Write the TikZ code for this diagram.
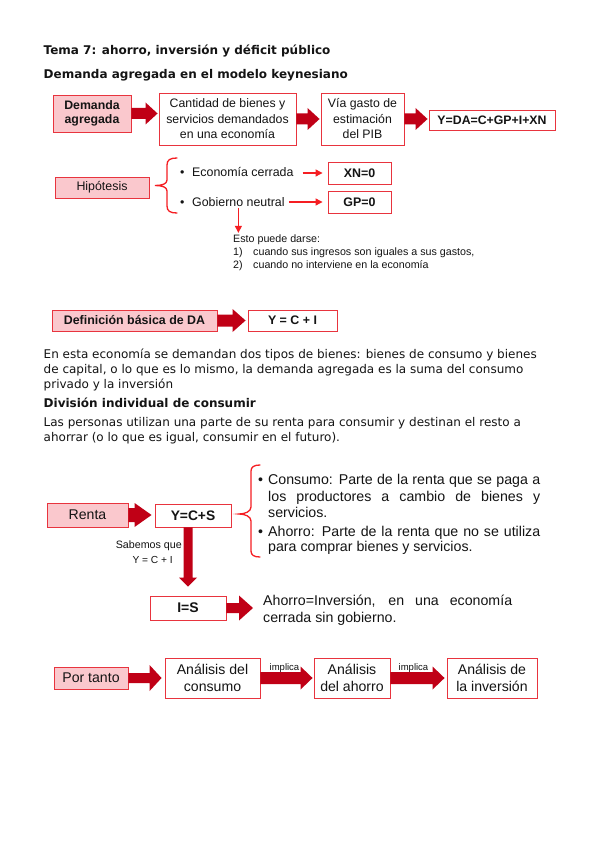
\documentclass[tikz,border=0pt]{standalone}
\usepackage{fontspec}
\setmainfont{DejaVu Sans}
\newfontfamily\arialf{Liberation Sans}
\usetikzlibrary{calc,arrows.meta,shadows}
\definecolor{boxred}{RGB}{232,52,62}
\definecolor{pinkfill}{RGB}{250,200,205}
\definecolor{darrow}{RGB}{192,0,22}
\definecolor{thinred}{RGB}{245,30,35}
\definecolor{ink}{RGB}{20,20,20}
% horizontal block arrow: from, to, shaft half, head half, head length, tip gap
\newcommand\hblock[6]{%
  \fill[darrow] ($(#1)+(0,-#3)$) -- ($(#2)+(-#5-#6,-#3)$) -- ($(#2)+(-#5-#6,-#4)$) -- ($(#2)+(-#6,0)$)
    -- ($(#2)+(-#5-#6,#4)$) -- ($(#2)+(-#5-#6,#3)$) -- ($(#1)+(0,#3)$) -- cycle;}
% vertical (downward) block arrow
\newcommand\vblock[6]{%
  \fill[darrow] ($(#1)+(-#3,0)$) -- ($(#2)+(-#3,-#5-#6)$) -- ($(#2)+(-#4,-#5-#6)$) -- ($(#2)+(0,-#6)$)
    -- ($(#2)+(#4,-#5-#6)$) -- ($(#2)+(#3,-#5-#6)$) -- ($(#1)+(#3,0)$) -- cycle;}
\tikzset{
  doc/.style={anchor=base west, inner sep=0pt, text=ink, font=\fontsize{12}{14.8}\selectfont},
  dochead/.style={doc, font=\bfseries\fontsize{12}{14.8}\selectfont},
  boxbase/.style={draw=boxred, line width=0.9pt, inner sep=0pt, align=center, text=ink,
    drop shadow={shadow xshift=1.3pt, shadow yshift=-1.3pt, fill=boxred, opacity=0.22}},
  pinkbox/.style={boxbase, fill=pinkfill},
  whitebox/.style={boxbase, fill=white},
  arial/.style={font=\arialf\fontsize{#1}{1.22*#1}\selectfont},
  lbl/.style={inner sep=0pt, text=ink},
  thinarrow/.style={thinred, line width=1.2pt, -{Triangle[length=7pt,width=7pt]}},
  bracepath/.style={thinred, line width=1.3pt, line cap=round}
}
\begin{document}
\begin{tikzpicture}[x=1pt,y=-1pt]
\useasboundingbox (0,0) rectangle (599,848);
\fill[white] (0,0) rectangle (599,848);

% ---------- headings ----------
\node[dochead] (tema) at (43.5,55) {Tema 7: ahorro, inversión y déficit público};
\node[dochead] (dak) at (43.5,79) {Demanda agregada en el modelo keynesiano};

% ---------- top row ----------
\node[pinkbox, minimum width=78pt, minimum height=37pt,
  font=\arialf\bfseries\fontsize{12.3}{14.5}\selectfont] (b1) at (92,113.5) {Demanda\\agregada};
\node[whitebox, minimum width=137pt, minimum height=52pt,
  font=\arialf\fontsize{12.3}{15.5}\selectfont] (b2) at (227.5,119) {Cantidad de bienes y\\servicios demandados\\en una economía};
\node[whitebox, minimum width=83pt, minimum height=52pt,
  font=\arialf\fontsize{12.3}{15.5}\selectfont] (b3) at (362.5,119) {Vía gasto de\\estimación\\del PIB};
\node[whitebox, minimum width=126pt, minimum height=20pt,
  font=\arialf\bfseries\fontsize{12.3}{14}\selectfont] (b4) at (492,120) {Y=DA=C+GP+I+XN};
\hblock{b1.east}{b1.east -| b2.west}{5.5}{11}{12}{1}
\hblock{b2.east}{b3.west}{5.5}{11}{12}{1}
\hblock{b3.east}{b3.east -| b4.west}{5.5}{11}{12}{1}

% ---------- hipotesis ----------
\node[pinkbox, minimum width=94pt, minimum height=21pt,
  font=\arialf\fontsize{12.4}{14}\selectfont] (hyp) at (102,187.5) {Hipótesis};
\draw[bracepath] (177,158) .. controls (170,158) and (167,160) .. (167,165) -- (167,180)
  .. controls (167,184) and (162,185.5) .. (155,185.5)
  .. controls (162,185.5) and (167,187) .. (167,191) -- (167,206)
  .. controls (167,211) and (170,213) .. (177,213);
\node[lbl, anchor=base west, font=\arialf\fontsize{12.4}{14}\selectfont] (bul1) at (180,176.2) {•};
\node[lbl, anchor=base west, font=\arialf\fontsize{12.4}{14}\selectfont] (ec) at (192,176.2) {Economía cerrada};
\node[lbl, anchor=base west, font=\arialf\fontsize{12.4}{14}\selectfont] (bul2) at (180,206.3) {•};
\node[lbl, anchor=base west, font=\arialf\fontsize{12.4}{14}\selectfont] (gn) at (192,206.3) {Gobierno neutral};
\node[whitebox, minimum width=63pt, minimum height=22pt,
  font=\arialf\bfseries\fontsize{12.4}{14}\selectfont] (xn) at (359.5,173) {XN=0};
\node[whitebox, minimum width=63pt, minimum height=22pt,
  font=\arialf\bfseries\fontsize{12.4}{14}\selectfont] (gp) at (359.5,202) {GP=0};
\draw[thinarrow, shorten <=9pt, shorten >=5pt] (xn.west -| ec.east) -- (xn.west);
\draw[thinarrow, shorten <=4pt, shorten >=5pt] (gp.west -| gn.east) -- (gp.west);
\node[lbl, anchor=base west, font=\arialf\fontsize{10.7}{13}\selectfont] (e1) at (233,242.8) {Esto puede darse:};
\node[lbl, anchor=base west, font=\arialf\fontsize{10.7}{13}\selectfont] (e2) at (233,255.8) {\makebox[20pt][l]{1)}cuando sus ingresos son iguales a sus gastos,};
\node[lbl, anchor=base west, font=\arialf\fontsize{10.7}{13}\selectfont] (e3) at (233,268.8) {\makebox[20pt][l]{2)}cuando no interviene en la economía};
\draw[thinarrow, shorten <=1pt, shorten >=2pt] (gn.south) -- (e1.north -| gn.south);

% ---------- definicion basica ----------
\node[pinkbox, minimum width=165pt, minimum height=21pt,
  font=\arialf\bfseries\fontsize{12.4}{14}\selectfont] (def) at (134.5,320.5) {Definición básica de DA};
\node[whitebox, minimum width=89pt, minimum height=21pt,
  font=\arialf\bfseries\fontsize{12.4}{14}\selectfont] (yci) at (292.5,320.5) {Y = C + I};
\hblock{def.east}{def.east -| yci.west}{6}{11.5}{13}{2}

% ---------- body text ----------
\node[doc] (p1) at (43.5,358.5) {En esta economía se demandan dos tipos de bienes: bienes de consumo y bienes};
\node[doc] (p2) at (43.5,373.3) {de capital, o lo que es lo mismo, la demanda agregada es la suma del consumo};
\node[doc] (p3) at (43.5,388) {privado y la inversión};
\node[dochead] (h3) at (43.5,407) {División individual de consumir};
\node[doc] (p4) at (43.5,426) {Las personas utilizan una parte de su renta para consumir y destinan el resto a};
\node[doc] (p5) at (43.5,441) {ahorrar (o lo que es igual, consumir en el futuro).};

% ---------- renta ----------
\node[pinkbox, minimum width=81pt, minimum height=24pt,
  font=\arialf\fontsize{14.1}{16}\selectfont] (renta) at (87.5,515) {Renta};
\node[whitebox, minimum width=76pt, minimum height=23pt,
  font=\arialf\bfseries\fontsize{13.8}{16}\selectfont] (ycs) at (193,515.5) {Y=C+S};
\hblock{renta.east}{renta.east -| ycs.west}{7}{12}{17}{3}
\draw[bracepath] (260,465) .. controls (254,465) and (251,467) .. (251,471) -- (251,507)
  .. controls (251,511.5) and (245,514) .. (239,514)
  .. controls (245,514) and (251,516.5) .. (251,521) -- (251,551)
  .. controls (251,555) and (254,557) .. (260,557);
\node[lbl, anchor=base west, font=\arialf\fontsize{14.2}{16}\selectfont] (bc) at (258,484) {•};
\node[lbl, anchor=base west, font=\arialf\fontsize{14.2}{16}\selectfont] (c1) at (268,484) {\makebox[272pt][s]{Consumo: Parte de la renta que se paga a}};
\node[lbl, anchor=base west, font=\arialf\fontsize{14.2}{16}\selectfont] (c2) at (268,501) {\makebox[272pt][s]{los productores a cambio de bienes y}};
\node[lbl, anchor=base west, font=\arialf\fontsize{14.2}{16}\selectfont] (c3) at (268,517) {servicios.};
\node[lbl, anchor=base west, font=\arialf\fontsize{14.2}{16}\selectfont] (ba) at (258,536) {•};
\node[lbl, anchor=base west, font=\arialf\fontsize{14.2}{16}\selectfont] (a1) at (268,536) {\makebox[272pt][s]{Ahorro: Parte de la renta que no se utiliza}};
\node[lbl, anchor=base west, font=\arialf\fontsize{14.2}{16}\selectfont] (a2) at (268,551) {para comprar bienes y servicios.};

\node[lbl, anchor=base east, font=\arialf\fontsize{10.7}{13}\selectfont] (sab) at (182,548) {Sabemos que};
\node[lbl, anchor=base east, font=\arialf\fontsize{10.2}{13}\selectfont] (ycy) at (173,563) {Y = C + I};

\node[whitebox, minimum width=76pt, minimum height=24pt,
  font=\arialf\bfseries\fontsize{14}{16}\selectfont] (is) at (188,608) {I=S};
\vblock{ycs.south -| is.north}{is.north}{4.5}{9}{9}{9}
\node[lbl, anchor=base west, font=\arialf\fontsize{14.2}{16}\selectfont] (ai1) at (263,605) {\makebox[249pt][s]{Ahorro=Inversión, en una economía}};
\node[lbl, anchor=base west, font=\arialf\fontsize{14.2}{16}\selectfont] (ai2) at (263,622) {cerrada sin gobierno.};
\hblock{is.east}{is.east -| ai1.west}{5}{12.5}{14}{10}

% ---------- bottom row ----------
\node[pinkbox, minimum width=74pt, minimum height=22pt,
  font=\arialf\fontsize{14.1}{16}\selectfont] (pt) at (91,678) {Por tanto};
\node[whitebox, minimum width=95pt, minimum height=40pt,
  font=\arialf\fontsize{14.1}{17.5}\selectfont] (ac) at (212.5,678) {Análisis del\\consumo};
\node[whitebox, minimum width=76pt, minimum height=40pt,
  font=\arialf\fontsize{14.1}{17.5}\selectfont] (ah) at (352,678) {Análisis\\del ahorro};
\node[whitebox, minimum width=90pt, minimum height=40pt,
  font=\arialf\fontsize{14.1}{17.5}\selectfont] (ai) at (492,678) {Análisis de\\la inversión};
\hblock{pt.east}{pt.east -| ac.west}{5}{13}{12}{3}
\hblock{ac.east}{ah.west}{6}{11.5}{12}{1}
\hblock{ah.east}{ai.west}{6}{11.5}{12}{2}
\node[lbl, anchor=base, font=\arialf\fontsize{9.5}{11}\selectfont] (imp1) at (284.5,670) {implica};
\node[lbl, anchor=base, font=\arialf\fontsize{9.5}{11}\selectfont] (imp2) at (413.5,670) {implica};
\end{tikzpicture}
\end{document}
